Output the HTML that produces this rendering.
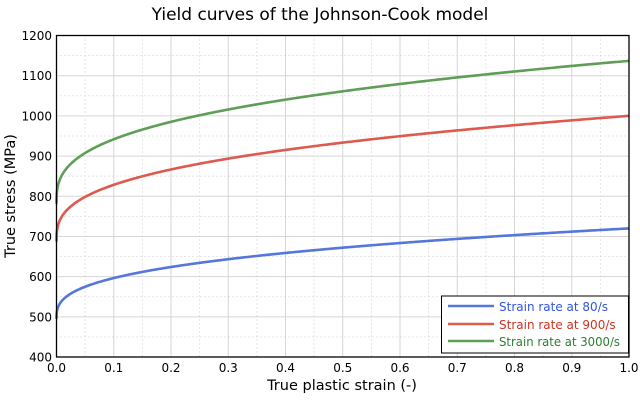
<!DOCTYPE html>
<html><head><meta charset="utf-8"><style>body{margin:0;background:#fff}svg{display:block;font-family:"DejaVu Sans",sans-serif}</style></head>
<body>
<svg id="s" width="640" height="400" viewBox="0 0 640 400">
<rect width="640" height="400" fill="#fff"/>
<g id="grid"></g>
<g id="curves" fill="none" stroke-width="2.6" stroke-linejoin="round"></g>
<rect x="56.5" y="35.5" width="572.5" height="321.5" fill="none" stroke="#000" stroke-width="1.3"/>
<g id="ticks" font-size="12" fill="#000"></g>
<text x="320" y="20" text-anchor="middle" font-size="17">Yield curves of the Johnson-Cook model</text>
<text x="342" y="390" text-anchor="middle" font-size="14.5">True plastic strain (-)</text>
<text transform="translate(15,196) rotate(-90)" text-anchor="middle" font-size="14.5">True stress (MPa)</text>
<rect x="441.5" y="296" width="187" height="57" fill="#fff" stroke="#000" stroke-width="1"/>
<line x1="448" x2="494" y1="306" y2="306" stroke="#5577dd" stroke-width="2.6"/>
<line x1="448" x2="494" y1="324" y2="324" stroke="#dd5a4e" stroke-width="2.6"/>
<line x1="448" x2="494" y1="341" y2="341" stroke="#5f9e56" stroke-width="2.6"/>
<text x="499" y="311" font-size="12" fill="#3355dd">Strain rate at 80/s</text>
<text x="499" y="329" font-size="12" fill="#cc3322">Strain rate at 900/s</text>
<text x="499" y="346" font-size="12" fill="#2e7d32" textLength="121" lengthAdjust="spacingAndGlyphs">Strain rate at 3000/s</text>
</svg>
<script>
var L=56.5,R=629,T=35.5,B=357;
function X(e){return L+e*(R-L)}function Y(s){return B-(s-400)/800*(B-T)}
var g='',t='';
for(var i=0;i<=20;i++){var x=X(i/20);if(i%2)g+='<line x1="'+x+'" x2="'+x+'" y1="'+T+'" y2="'+B+'" stroke="#ccc" stroke-dasharray="1,3"/>';else g+='<line x1="'+x+'" x2="'+x+'" y1="'+T+'" y2="'+B+'" stroke="#d6d6d6"/>';
if(i%2==0){t+='<text x="'+x+'" y="372" text-anchor="middle">'+(i/20).toFixed(1)+'</text>';}}
for(var i=0;i<=16;i++){var y=Y(400+i*50);if(i%2)g+='<line x1="'+L+'" x2="'+R+'" y1="'+y+'" y2="'+y+'" stroke="#ccc" stroke-dasharray="1,3"/>';else {g+='<line x1="'+L+'" x2="'+R+'" y1="'+y+'" y2="'+y+'" stroke="#d6d6d6"/>';t+='<text x="52" y="'+(y+4.5)+'" text-anchor="end">'+(400+i*50)+'</text>';}}
document.getElementById('grid').innerHTML=g;document.getElementById('ticks').innerHTML=t;
var c='',cs=[['#5577dd',1],['#dd5a4e',1.389],['#5f9e56',1.579]];
cs.forEach(function(k){var d='';for(var j=0;j<=400;j++){var e=Math.pow(j/400,2);var s=(495+225*Math.pow(e,0.346))*k[1];d+=(j?'L':'M')+X(e).toFixed(2)+','+Y(s).toFixed(2);}c+='<path d="'+d+'" stroke="'+k[0]+'"/>';});
document.getElementById('curves').innerHTML=c;
</script>
</body></html>
